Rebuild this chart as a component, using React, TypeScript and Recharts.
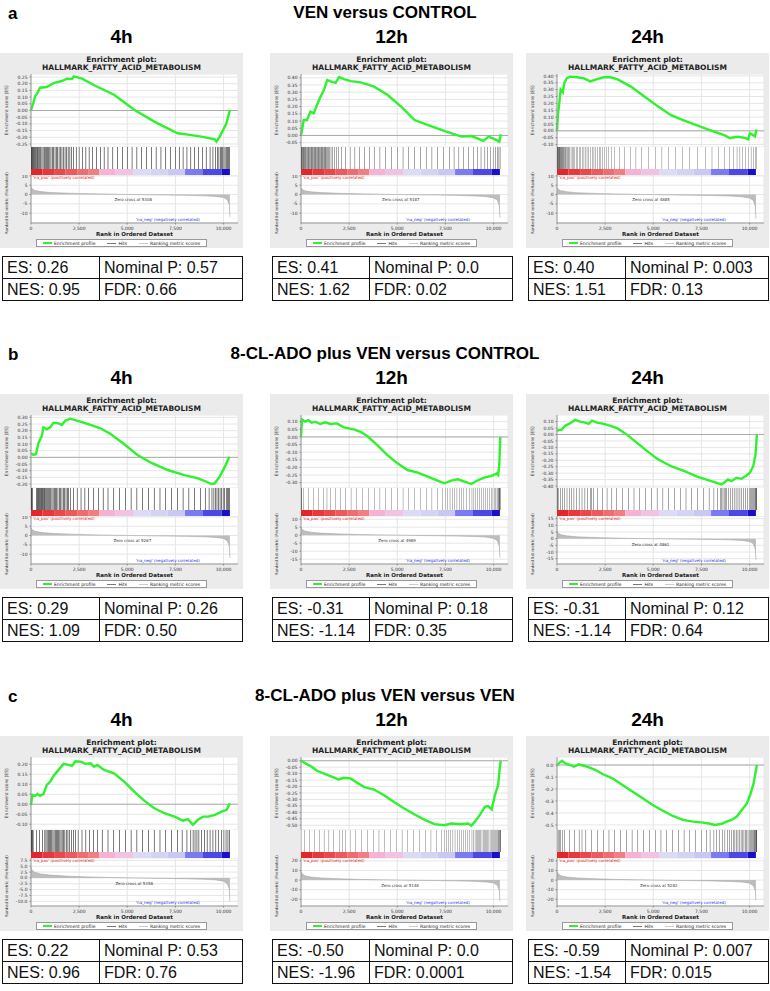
import React from "react";
import {
  LineChart,
  Line,
  AreaChart,
  Area,
  ComposedChart,
  Bar,
  XAxis,
  YAxis,
  CartesianGrid,
  ReferenceLine,
  ReferenceDot,
} from "recharts";

// ---- shared axis values ----
const RANK_TICKS = [0, 2500, 5000, 7500, 10000];
const RANK_MAX = 10750;
const TIMES = ["4h", "12h", "24h"];
const METRIC_RANKS = [0, 60, 200, 500, 1000, 2000, 3000, 4000, 5000, 6000, 7000, 8000, 9000, 9600, 10000, 10200, 10300, 10330];
// rank positions where the colour of the ranked-list bar changes (last = dataset size)
const COLOR_EDGES = [0, 600, 1200, 1800, 2400, 3000, 3550, 4400, 5300, 6200, 7100, 8000, 8900, 9900, 10330];

// ---- a: VEN versus CONTROL ----
const A4_RANK = [0, 120, 210, 330, 470, 820, 1170, 1600, 1870, 2130, 2220, 2650, 3260, 4310, 5360, 6400, 7620, 8060, 8850, 9540, 9630, 9800, 9980, 10150, 10330];
const A4_ES = [0.005, 0.055, 0.105, 0.13, 0.17, 0.175, 0.205, 0.22, 0.238, 0.235, 0.255, 0.238, 0.19, 0.118, 0.005, -0.083, -0.17, -0.178, -0.195, -0.215, -0.233, -0.195, -0.145, -0.095, 0.005];
const A12_RANK = [0, 70, 140, 310, 490, 660, 840, 1010, 1190, 1360, 1620, 1800, 1970, 2230, 2580, 3100, 3800, 4500, 5200, 5900, 6600, 7290, 7820, 8340, 8860, 9470, 9740, 10080, 10300, 10380];
const A12_ES = [0.0, 0.05, 0.107, 0.107, 0.165, 0.153, 0.215, 0.268, 0.315, 0.384, 0.372, 0.365, 0.405, 0.39, 0.377, 0.368, 0.338, 0.28, 0.2, 0.107, 0.072, 0.038, 0.015, -0.008, -0.004, -0.038, -0.008, -0.027, -0.043, 0.008];
const A24_RANK = [0, 50, 120, 190, 300, 380, 510, 680, 1030, 1380, 1730, 2080, 2430, 2780, 3120, 3820, 4520, 5220, 5920, 6610, 7310, 8010, 8710, 8970, 9400, 9750, 9930, 10020, 10280, 10360];
const A24_ES = [0.002, 0.12, 0.205, 0.3, 0.28, 0.348, 0.383, 0.395, 0.39, 0.383, 0.36, 0.376, 0.39, 0.39, 0.376, 0.324, 0.252, 0.18, 0.114, 0.074, 0.038, 0.002, -0.033, -0.052, -0.043, -0.052, -0.062, -0.017, -0.04, 0.01];

const A4_HITS = [15, 45, 80, 110, 150, 190, 230, 270, 320, 360, 410, 460, 510, 570, 630, 690, 740, 800, 860, 920, 980, 1040, 1110, 1180, 1250, 1320, 1390, 1460, 1530, 1610, 1690, 1770, 1850, 1930, 2020, 2110, 2200, 2350, 2500, 2680, 2850, 3020, 3200, 3400, 3600, 3800, 4000, 4250, 4500, 4750, 5000, 5250, 5500, 5750, 6000, 6250, 6500, 6750, 7000, 7250, 7500, 7700, 7900, 8100, 8300, 8500, 8700, 8900, 9100, 9300, 9450, 9580, 9680, 9760, 9830, 9900, 9960, 10020, 10080, 10140, 10200, 10250, 10300];
const A12_HITS = [5, 25, 50, 80, 110, 140, 175, 210, 250, 290, 330, 370, 410, 450, 490, 530, 570, 610, 650, 690, 730, 770, 810, 850, 890, 930, 970, 1010, 1050, 1090, 1130, 1170, 1210, 1250, 1290, 1330, 1370, 1420, 1480, 1560, 1650, 1750, 1860, 1950, 2100, 2300, 2550, 2800, 3050, 3300, 3550, 3800, 4100, 4400, 4700, 5000, 5300, 5600, 5900, 6200, 6500, 6800, 7100, 7400, 7700, 7950, 8200, 8450, 8700, 8950, 9150, 9350, 9550, 9700, 9850, 9980, 10100, 10200, 10280, 10340];
const A24_HITS = [3, 18, 35, 52, 70, 90, 110, 130, 150, 172, 195, 220, 245, 270, 300, 330, 360, 390, 420, 455, 490, 530, 575, 620, 670, 730, 790, 860, 930, 1000, 1080, 1160, 1240, 1320, 1400, 1480, 1560, 1650, 1740, 1830, 1920, 2010, 2100, 2190, 2280, 2370, 2460, 2560, 2680, 2820, 3000, 3250, 3500, 3800, 4100, 4400, 4750, 5100, 5450, 5800, 6150, 6500, 6900, 7300, 7700, 8050, 8400, 8700, 8950, 9150, 9350, 9500, 9650, 9800, 9950, 10080, 10200, 10290, 10350];

const A4_METRIC = [4.0, 3.0, 2.2, 1.6, 1.1, 0.7, 0.45, 0.25, 0.05, -0.12, -0.25, -0.4, -0.7, -1.0, -1.6, -2.8, -5.5, -12];
const A12_METRIC = [3.6, 2.7, 2.0, 1.5, 1.05, 0.65, 0.4, 0.2, 0.03, -0.15, -0.28, -0.45, -0.75, -1.1, -1.8, -3.0, -6.0, -12.5];
const A24_METRIC = [3.8, 2.9, 2.1, 1.5, 1.0, 0.6, 0.35, 0.12, -0.03, -0.2, -0.35, -0.5, -0.8, -1.2, -1.9, -3.2, -6.5, -13];

const A4_ES_TICKS = [0.25, 0.2, 0.15, 0.1, 0.05, 0, -0.05, -0.1, -0.15, -0.2, -0.25];
const A12_ES_TICKS = [0.4, 0.35, 0.3, 0.25, 0.2, 0.15, 0.1, 0.05, 0, -0.05];
const A24_ES_TICKS = [0.4, 0.35, 0.3, 0.25, 0.2, 0.15, 0.1, 0.05, 0, -0.05, -0.1];
const A_METRIC_TICKS = [10, 5, 0, -5, -10];
const A_ZERO = [5308, 5187, 4885];
const A_STAT_ES = ["0.26", "0.41", "0.40"];
const A_STAT_P = ["0.57", "0.0", "0.003"];
const A_STAT_NES = ["0.95", "1.62", "1.51"];
const A_STAT_FDR = ["0.66", "0.02", "0.13"];

// ---- b: 8-CL-ADO plus VEN versus CONTROL ----
const B4_RANK = [0, 120, 260, 380, 560, 645, 820, 995, 1170, 1430, 1600, 1780, 2040, 2560, 3090, 3610, 4130, 4830, 5530, 6230, 7100, 7970, 8670, 9110, 9370, 9540, 9800, 10070, 10300];
const B4_ES = [0.03, 0.018, 0.025, 0.105, 0.16, 0.225, 0.21, 0.225, 0.26, 0.255, 0.243, 0.275, 0.29, 0.268, 0.243, 0.218, 0.175, 0.1, 0.018, -0.04, -0.095, -0.133, -0.158, -0.183, -0.2, -0.195, -0.145, -0.07, 0.005];
const B12_RANK = [0, 50, 210, 380, 560, 730, 1000, 1260, 1520, 1870, 2220, 2740, 3090, 3440, 3960, 4490, 5010, 5530, 6060, 6580, 7100, 7450, 7800, 8150, 8500, 8850, 9200, 9550, 9900, 10150, 10240, 10300, 10350];
const B12_ES = [0.0, 0.115, 0.1, 0.11, 0.093, 0.1, 0.085, 0.096, 0.085, 0.089, 0.063, 0.05, 0.034, 0.006, -0.053, -0.119, -0.173, -0.217, -0.234, -0.26, -0.287, -0.304, -0.287, -0.278, -0.293, -0.309, -0.283, -0.265, -0.256, -0.239, -0.25, -0.173, 0.0];
const B24_RANK = [0, 70, 240, 420, 680, 940, 1200, 1460, 1640, 1820, 2080, 2430, 2780, 3120, 3650, 4170, 4700, 5220, 5920, 6620, 7310, 8010, 8540, 8710, 8880, 9060, 9320, 9580, 9840, 10020, 10190, 10310, 10380];
const B24_ES = [0.023, 0.036, 0.036, 0.067, 0.087, 0.113, 0.1, 0.092, 0.082, 0.108, 0.092, 0.082, 0.067, 0.049, -0.003, -0.067, -0.131, -0.19, -0.246, -0.285, -0.328, -0.362, -0.387, -0.37, -0.349, -0.362, -0.336, -0.344, -0.318, -0.297, -0.246, -0.156, 0.0];

const B4_HITS = [10, 40, 70, 290, 330, 370, 410, 450, 490, 530, 570, 610, 650, 690, 730, 780, 830, 880, 930, 980, 1030, 1090, 1150, 1210, 1270, 1330, 1400, 1470, 1540, 1610, 1680, 1750, 1820, 1890, 1960, 2040, 2200, 2400, 2600, 2800, 3000, 3250, 3500, 3750, 4000, 4300, 4600, 4900, 5200, 5500, 5800, 6100, 6400, 6700, 7000, 7300, 7600, 7900, 8200, 8500, 8800, 9050, 9250, 9400, 9500, 9580, 9660, 9740, 9820, 9900, 9980, 10060, 10140, 10210, 10270, 10320];
const B12_HITS = [3, 20, 45, 150, 400, 650, 900, 1150, 1350, 1550, 1800, 2050, 2300, 2600, 2900, 3200, 3500, 3800, 4100, 4400, 4700, 5000, 5300, 5600, 5900, 6200, 6500, 6800, 7100, 7350, 7500, 7620, 7740, 7860, 7980, 8100, 8220, 8340, 8460, 8600, 8740, 8880, 8980, 9080, 9180, 9280, 9380, 9480, 9580, 9680, 9780, 9880, 9970, 10050, 10120, 10180, 10230, 10260, 10285, 10305, 10320, 10335, 10350];
const B24_HITS = [5, 30, 60, 200, 300, 400, 520, 640, 760, 880, 1000, 1150, 1300, 1450, 1600, 1750, 1800, 1900, 2100, 2350, 2600, 2850, 3100, 3400, 3700, 4000, 4300, 4600, 4900, 5200, 5500, 5800, 6100, 6400, 6700, 7000, 7300, 7600, 7900, 8150, 8350, 8500, 8560, 8620, 8680, 8740, 8800, 8900, 9000, 9100, 9200, 9300, 9400, 9500, 9600, 9700, 9800, 9900, 9980, 10050, 10110, 10170, 10220, 10260, 10300, 10330, 10355, 10375];

const B4_METRIC = [4.2, 3.1, 2.3, 1.7, 1.2, 0.75, 0.45, 0.22, 0.04, -0.12, -0.26, -0.42, -0.7, -1.0, -1.6, -2.9, -5.8, -12];
const B12_METRIC = [5.0, 3.6, 2.6, 1.9, 1.3, 0.8, 0.45, 0.2, 0.0, -0.18, -0.32, -0.5, -0.8, -1.2, -2.0, -3.4, -7, -14];
const B24_METRIC = [6.0, 4.2, 3.0, 2.1, 1.4, 0.85, 0.45, 0.18, -0.02, -0.2, -0.36, -0.55, -0.9, -1.3, -2.2, -3.8, -8, -16];

const B4_ES_TICKS = [0.3, 0.25, 0.2, 0.15, 0.1, 0.05, 0, -0.05, -0.1, -0.15, -0.2];
const B12_ES_TICKS = [0.1, 0.05, 0, -0.05, -0.1, -0.15, -0.2, -0.25, -0.3];
const B24_ES_TICKS = [0.1, 0.05, 0, -0.05, -0.1, -0.15, -0.2, -0.25, -0.3, -0.35, -0.4];
const B4_METRIC_TICKS = [10, 5, 0, -5, -10];
const B12_METRIC_TICKS = [10, 5, 0, -5, -10, -15];
const B24_METRIC_TICKS = [15, 10, 5, 0, -5, -10, -15];
const B_ZERO = [5267, 4989, 4861];
const B_STAT_ES = ["0.29", "-0.31", "-0.31"];
const B_STAT_P = ["0.26", "0.18", "0.12"];
const B_STAT_NES = ["1.09", "-1.14", "-1.14"];
const B_STAT_FDR = ["0.50", "0.35", "0.64"];

// ---- c: 8-CL-ADO plus VEN versus VEN ----
const C4_RANK = [0, 70, 210, 330, 470, 650, 820, 1000, 1170, 1430, 1690, 1960, 2130, 2300, 2570, 2830, 3090, 3270, 3440, 3790, 4310, 4840, 5360, 5880, 6400, 6930, 7450, 7890, 8150, 8410, 8670, 8940, 9200, 9550, 9900, 10160, 10330];
const C4_ES = [-0.003, 0.047, 0.042, 0.052, 0.042, 0.052, 0.097, 0.113, 0.142, 0.172, 0.202, 0.197, 0.192, 0.215, 0.213, 0.202, 0.205, 0.188, 0.197, 0.172, 0.155, 0.113, 0.063, 0.018, -0.02, -0.045, -0.062, -0.082, -0.075, -0.103, -0.078, -0.062, -0.062, -0.053, -0.037, -0.028, 0.005];
const C12_RANK = [0, 300, 560, 820, 1170, 1520, 1960, 2220, 2570, 2920, 3260, 3790, 4310, 4830, 5360, 5880, 6400, 6930, 7450, 7800, 8320, 8670, 8850, 9020, 9280, 9550, 9720, 9900, 10070, 10240, 10310, 10370];
const C12_ES = [0.0, -0.026, -0.047, -0.078, -0.098, -0.119, -0.145, -0.132, -0.137, -0.171, -0.202, -0.223, -0.267, -0.319, -0.37, -0.415, -0.456, -0.492, -0.5, -0.487, -0.492, -0.487, -0.503, -0.474, -0.422, -0.358, -0.352, -0.378, -0.267, -0.189, -0.073, 0.0];
const C24_RANK = [0, 90, 260, 440, 700, 870, 1130, 1400, 1660, 2010, 2360, 2880, 3400, 3930, 4450, 4970, 5500, 6020, 6540, 7070, 7590, 7940, 8200, 8550, 8810, 9070, 9340, 9600, 9860, 10030, 10210, 10380];
const C24_ES = [-0.005, 0.014, 0.036, 0.014, 0.0, -0.014, 0.006, -0.006, -0.019, -0.042, -0.075, -0.111, -0.167, -0.222, -0.278, -0.333, -0.381, -0.425, -0.458, -0.472, -0.48, -0.49, -0.5, -0.49, -0.472, -0.458, -0.43, -0.375, -0.32, -0.25, -0.153, 0.0];

const C4_HITS = [10, 40, 75, 110, 300, 450, 600, 720, 780, 840, 900, 960, 1020, 1080, 1140, 1200, 1260, 1320, 1380, 1440, 1500, 1560, 1620, 1690, 1760, 1840, 1920, 2000, 2100, 2200, 2300, 2450, 2650, 2850, 3050, 3250, 3450, 3700, 4000, 4300, 4600, 4900, 5200, 5500, 5800, 6100, 6400, 6700, 7000, 7300, 7600, 7850, 8100, 8300, 8420, 8520, 8620, 8720, 8850, 9000, 9150, 9300, 9450, 9600, 9750, 9900, 10020, 10130, 10230, 10310];
const C12_HITS = [5, 200, 450, 700, 950, 1200, 1450, 1700, 2000, 2150, 2300, 2550, 2850, 3150, 3450, 3750, 4050, 4350, 4650, 4950, 5250, 5550, 5850, 6150, 6450, 6750, 7050, 7300, 7450, 7560, 7670, 7780, 7890, 8000, 8110, 8220, 8330, 8440, 8550, 8660, 8770, 8880, 8960, 9040, 9100, 9160, 9220, 9280, 9340, 9400, 9460, 9520, 9580, 9640, 9700, 9760, 9820, 9880, 9940, 10000, 10050, 10100, 10150, 10200, 10240, 10280, 10310, 10335, 10355, 10370];
const C24_HITS = [5, 60, 130, 200, 280, 400, 650, 900, 1150, 1300, 1500, 1800, 2100, 2400, 2700, 3000, 3300, 3600, 3900, 4200, 4500, 4800, 5100, 5400, 5700, 6000, 6300, 6600, 6900, 7200, 7500, 7750, 7950, 8150, 8300, 8450, 8600, 8720, 8840, 8960, 9060, 9150, 9240, 9320, 9400, 9480, 9560, 9640, 9710, 9780, 9850, 9920, 9980, 10040, 10100, 10150, 10200, 10240, 10280, 10310, 10340, 10360, 10380];

const C4_METRIC = [4.5, 3.3, 2.4, 1.7, 1.2, 0.7, 0.42, 0.2, 0.02, -0.1, -0.22, -0.36, -0.6, -0.85, -1.4, -2.5, -4.8, -10];
const C12_METRIC = [9, 6.5, 4.5, 3.2, 2.2, 1.3, 0.75, 0.35, 0.05, -0.25, -0.5, -0.8, -1.3, -1.9, -3.0, -5.5, -11, -22];
const C24_METRIC = [9, 6.5, 4.5, 3.2, 2.2, 1.3, 0.75, 0.35, 0.02, -0.28, -0.55, -0.85, -1.4, -2.0, -3.2, -5.8, -11, -21];

const C4_ES_TICKS = [0.2, 0.15, 0.1, 0.05, 0, -0.05, -0.1];
const C12_ES_TICKS = [0, -0.05, -0.1, -0.15, -0.2, -0.25, -0.3, -0.35, -0.4, -0.45, -0.5];
const C24_ES_TICKS = [0, -0.1, -0.2, -0.3, -0.4, -0.5];
const C4_METRIC_TICKS = [7.5, 5, 2.5, 0, -2.5, -5, -7.5, -10];
const C_METRIC_TICKS = [20, 10, 0, -10, -20];
const C_ZERO = [5358, 5148, 5282];
const C_STAT_ES = ["0.22", "-0.50", "-0.59"];
const C_STAT_P = ["0.53", "0.0", "0.007"];
const C_STAT_NES = ["0.96", "-1.96", "-1.54"];
const C_STAT_FDR = ["0.76", "0.0001", "0.015"];

// ---- layout ----
const W = 243;
const PLOT_L = 31;
const PLOT_R = 5;
const PANEL_LEFTS = [0, 270, 526];
const ROW_OFFSETS = [0, 341, 683];
const ARIAL = '"Liberation Sans", Arial, sans-serif';
const DEJAVU = '"DejaVu Sans", sans-serif';
const BAR_COLORS = ["#e3262c", "#e6383d", "#e9484d", "#ec5a5e", "#ef6c70", "#f17f82", "#f4b2d4", "#f0c3e2", "#dcdaf5", "#d3d3f4", "#c8c8f3", "#7b7bef", "#4c48e6", "#1a0ecb"];

const ROWS = [
  {
    letter: "a",
    title: "VEN versus CONTROL",
    panels: [
      { rank: A4_RANK, es: A4_ES, esTicks: A4_ES_TICKS, esDomain: [-0.2725, 0.2725], esDec: 2, hits: A4_HITS, metric: A4_METRIC, mTicks: A_METRIC_TICKS, mDomain: [-15.3, 10.5], mDec: 0 },
      { rank: A12_RANK, es: A12_ES, esTicks: A12_ES_TICKS, esDomain: [-0.08, 0.426], esDec: 2, hits: A12_HITS, metric: A12_METRIC, mTicks: A_METRIC_TICKS, mDomain: [-15.3, 10.5], mDec: 0 },
      { rank: A24_RANK, es: A24_ES, esTicks: A24_ES_TICKS, esDomain: [-0.118, 0.414], esDec: 2, hits: A24_HITS, metric: A24_METRIC, mTicks: A_METRIC_TICKS, mDomain: [-15.3, 10.5], mDec: 0 },
    ],
    zero: A_ZERO,
    stats: [A_STAT_ES, A_STAT_P, A_STAT_NES, A_STAT_FDR],
  },
  {
    letter: "b",
    title: "8-CL-ADO plus VEN versus CONTROL",
    panels: [
      { rank: B4_RANK, es: B4_ES, esTicks: B4_ES_TICKS, esDomain: [-0.23, 0.3175], esDec: 2, hits: B4_HITS, metric: B4_METRIC, mTicks: B4_METRIC_TICKS, mDomain: [-15.3, 10.5], mDec: 0 },
      { rank: B12_RANK, es: B12_ES, esTicks: B12_ES_TICKS, esDomain: [-0.335, 0.144], esDec: 2, hits: B12_HITS, metric: B12_METRIC, mTicks: B12_METRIC_TICKS, mDomain: [-18, 12], mDec: 0 },
      { rank: B24_RANK, es: B24_ES, esTicks: B24_ES_TICKS, esDomain: [-0.415, 0.151], esDec: 2, hits: B24_HITS, metric: B24_METRIC, mTicks: B24_METRIC_TICKS, mDomain: [-19, 17], mDec: 0 },
    ],
    zero: B_ZERO,
    stats: [B_STAT_ES, B_STAT_P, B_STAT_NES, B_STAT_FDR],
  },
  {
    letter: "c",
    title: "8-CL-ADO plus VEN versus VEN",
    panels: [
      { rank: C4_RANK, es: C4_ES, esTicks: C4_ES_TICKS, esDomain: [-0.129, 0.2365], esDec: 2, hits: C4_HITS, metric: C4_METRIC, mTicks: C4_METRIC_TICKS, mDomain: [-12, 8.5], mDec: 1 },
      { rank: C12_RANK, es: C12_ES, esTicks: C12_ES_TICKS, esDomain: [-0.537, 0.029], esDec: 2, hits: C12_HITS, metric: C12_METRIC, mTicks: C_METRIC_TICKS, mDomain: [-27, 23], mDec: 0 },
      { rank: C24_RANK, es: C24_ES, esTicks: C24_ES_TICKS, esDomain: [-0.542, 0.067], esDec: 1, hits: C24_HITS, metric: C24_METRIC, mTicks: C_METRIC_TICKS, mDomain: [-27, 23], mDec: 0 },
    ],
    zero: C_ZERO,
    stats: [C_STAT_ES, C_STAT_P, C_STAT_NES, C_STAT_FDR],
  },
];

// one row for the stacked colour bar: each segment's width in ranks
const colorRow: Record<string, any> = { cat: "rank" };
COLOR_EDGES.slice(1).forEach((e, i) => {
  colorRow["s" + i] = e - COLOR_EDGES[i];
});
const COLOR_DATA = [colorRow];

const tinyTick = { fontSize: 4.5, fill: "#333", fontFamily: DEJAVU };
const rankFmt = (v: number) => (v === 0 ? "0" : v.toLocaleString("en-US"));

function SideLabel({ text, cx, cy, size }: any) {
  return (
    <div
      style={{
        position: "absolute",
        left: cx - 50,
        top: cy - size / 2 - 1,
        width: 100,
        textAlign: "center",
        fontSize: size,
        lineHeight: `${size + 2}px`,
        color: "#333",
        transform: "rotate(-90deg)",
        whiteSpace: "nowrap",
      }}
    >
      {text}
    </div>
  );
}

function EnrichmentPanel({ p, zero, left, top }: any) {
  const esData = p.rank.map((r: number, i: number) => ({ rank: r, es: p.es[i] }));
  const hitData = p.hits.map((h: number) => ({ rank: h, hit: 1 }));
  const metricData = METRIC_RANKS.map((r, i) => ({ rank: r, m: p.metric[i] }));

  return (
    <div style={{ position: "absolute", left, top, width: W, height: 195, background: "#ebebeb", fontFamily: DEJAVU, color: "#222" }}>
      <div style={{ position: "absolute", left: 0, top: 3, width: W, textAlign: "center", fontSize: 7.5, fontWeight: "bold", lineHeight: "7.6px" }}>
        Enrichment plot:
        <br />
        HALLMARK_FATTY_ACID_METABOLISM
      </div>

      {/* running enrichment score */}
      <div style={{ position: "absolute", left: 0, top: 21 }}>
        <LineChart width={W} height={73} data={esData} margin={{ top: 0, right: PLOT_R, bottom: 0, left: 0 }}>
          <CartesianGrid stroke="#e6e6e6" fill="#fff" />
          <XAxis type="number" dataKey="rank" domain={[0, RANK_MAX]} ticks={RANK_TICKS} hide />
          <YAxis
            type="number"
            domain={p.esDomain}
            ticks={p.esTicks}
            allowDataOverflow
            interval={0}
            width={PLOT_L}
            tick={tinyTick}
            tickSize={1.5}
            tickLine={{ stroke: "#888" }}
            axisLine={{ stroke: "#999" }}
            tickFormatter={(v: number) => v.toFixed(p.esDec)}
          />
          <ReferenceLine y={0} stroke="#9a9a9a" strokeWidth={0.8} />
          <Line type="linear" dataKey="es" stroke="#2ef22e" strokeWidth={2.4} dot={false} isAnimationActive={false} />
        </LineChart>
      </div>
      <SideLabel text="Enrichment score (ES)" cx={7} cy={57} size={4.5} />

      {/* hits */}
      <div style={{ position: "absolute", left: 0, top: 94 }}>
        <ComposedChart width={W} height={22} data={hitData} margin={{ top: 0, right: PLOT_R, bottom: 0, left: PLOT_L }}>
          <CartesianGrid horizontal={false} vertical={false} fill="#fff" />
          <XAxis type="number" dataKey="rank" domain={[0, RANK_MAX]} hide />
          <YAxis type="number" domain={[0, 1]} hide />
          <Bar dataKey="hit" fill="#000" barSize={1.4} isAnimationActive={false} />
        </ComposedChart>
      </div>

      {/* ranked list colour bar */}
      <div style={{ position: "absolute", left: 0, top: 116 }}>
        <ComposedChart
          width={W}
          height={6}
          data={COLOR_DATA}
          layout="vertical"
          barCategoryGap={0}
          margin={{ top: 0, right: PLOT_R, bottom: 0, left: PLOT_L }}
        >
          <CartesianGrid horizontal={false} vertical={false} fill="#fff" />
          <XAxis type="number" domain={[0, RANK_MAX]} hide />
          <YAxis type="category" dataKey="cat" hide />
          {BAR_COLORS.map((c, i) => (
            <Bar key={i} dataKey={"s" + i} stackId="cb" fill={c} isAnimationActive={false} />
          ))}
        </ComposedChart>
      </div>

      {/* ranked list metric */}
      <div style={{ position: "absolute", left: 0, top: 122 }}>
        <AreaChart width={W} height={62} data={metricData} margin={{ top: 0, right: PLOT_R, bottom: 0, left: 0 }}>
          <CartesianGrid stroke="#e6e6e6" fill="#fff" />
          <XAxis
            type="number"
            dataKey="rank"
            domain={[0, RANK_MAX]}
            ticks={RANK_TICKS}
            tickFormatter={rankFmt}
            tick={tinyTick}
            tickSize={1.5}
            height={14}
            axisLine={{ stroke: "#999" }}
            tickLine={{ stroke: "#888" }}
            label={{ value: "Rank in Ordered Dataset", position: "insideBottom", offset: 1, fontSize: 5.5, fontWeight: "bold", fill: "#222" }}
          />
          <YAxis
            type="number"
            domain={p.mDomain}
            ticks={p.mTicks}
            allowDataOverflow
            interval={0}
            width={PLOT_L}
            tick={tinyTick}
            tickSize={1.5}
            tickLine={{ stroke: "#888" }}
            axisLine={{ stroke: "#999" }}
            tickFormatter={(v: number) => v.toFixed(p.mDec)}
          />
          <Area type="linear" dataKey="m" stroke="#a8a8a8" strokeWidth={0.6} fill="#bdbdbd" fillOpacity={1} isAnimationActive={false} />
          <ReferenceDot
            x={zero}
            y={0}
            r={0}
            stroke="none"
            label={{ value: `Zero cross at ${zero}`, position: "bottom", offset: 4, fontSize: 4, fill: "#333" }}
          />
        </AreaChart>
      </div>
      <SideLabel text="Ranked list metric (PreRanked)" cx={7} cy={150} size={4} />
      <div style={{ position: "absolute", left: 33, top: 122, fontSize: 4, color: "#e02020", whiteSpace: "nowrap" }}>
        'na_pos' (positively correlated)
      </div>
      <div style={{ position: "absolute", left: 136, top: 164, fontSize: 4, color: "#2030e0", whiteSpace: "nowrap" }}>
        'na_neg' (negatively correlated)
      </div>

      {/* legend */}
      <div
        style={{
          position: "absolute",
          left: 36,
          top: 186,
          width: 171,
          height: 8,
          boxSizing: "border-box",
          background: "#fff",
          border: "0.6px solid #999",
          display: "flex",
          alignItems: "center",
          justifyContent: "space-around",
          fontSize: 4.5,
          whiteSpace: "nowrap",
        }}
      >
        <span>
          <span style={{ display: "inline-block", width: 9, height: 1.6, background: "#2ef22e", verticalAlign: "middle", marginRight: 2 }} />
          Enrichment profile
        </span>
        <span>
          <span style={{ display: "inline-block", width: 9, height: 0.8, background: "#777", verticalAlign: "middle", marginRight: 2 }} />
          Hits
        </span>
        <span>
          <span style={{ display: "inline-block", width: 9, height: 0.8, background: "#ccc", verticalAlign: "middle", marginRight: 2 }} />
          Ranking metric scores
        </span>
      </div>
    </div>
  );
}

function StatsTable({ left, top, es, nomP, nes, fdr }: any) {
  const cell: React.CSSProperties = { border: "1.5px solid #111", padding: "0 0 0 4px", height: 21, lineHeight: "21px", whiteSpace: "nowrap" };
  return (
    <table
      style={{ position: "absolute", left, top, width: 241, borderCollapse: "collapse", fontFamily: ARIAL, fontSize: 16, color: "#111", tableLayout: "fixed" }}
    >
      <tbody>
        <tr>
          <td style={{ ...cell, width: 92 }}>ES: {es}</td>
          <td style={cell}>Nominal P: {nomP}</td>
        </tr>
        <tr>
          <td style={cell}>NES: {nes}</td>
          <td style={cell}>FDR: {fdr}</td>
        </tr>
      </tbody>
    </table>
  );
}

export default function App() {
  return (
    <div style={{ position: "absolute", left: 0, top: 0, width: 770, height: 991, background: "#fff", overflow: "hidden" }}>
      {ROWS.map((row, ri) => {
        const off = ROW_OFFSETS[ri];
        return (
          <React.Fragment key={row.letter}>
            <div style={{ position: "absolute", left: 8, top: off + 4, fontSize: 17, fontWeight: "bold", fontFamily: ARIAL }}>{row.letter}</div>
            <div style={{ position: "absolute", left: 0, top: off + 3, width: 770, textAlign: "center", fontSize: 17, fontWeight: "bold", fontFamily: ARIAL }}>
              {row.title}
            </div>
            {row.panels.map((p, pi) => (
              <React.Fragment key={pi}>
                <div
                  style={{ position: "absolute", left: PANEL_LEFTS[pi], top: off + 26, width: W, textAlign: "center", fontSize: 19, fontWeight: "bold", fontFamily: ARIAL }}
                >
                  {TIMES[pi]}
                </div>
                <EnrichmentPanel p={p} zero={row.zero[pi]} left={PANEL_LEFTS[pi]} top={off + 53} />
                <StatsTable
                  left={PANEL_LEFTS[pi] + 2}
                  top={off + 256}
                  es={row.stats[0][pi]}
                  nomP={row.stats[1][pi]}
                  nes={row.stats[2][pi]}
                  fdr={row.stats[3][pi]}
                />
              </React.Fragment>
            ))}
          </React.Fragment>
        );
      })}
    </div>
  );
}
